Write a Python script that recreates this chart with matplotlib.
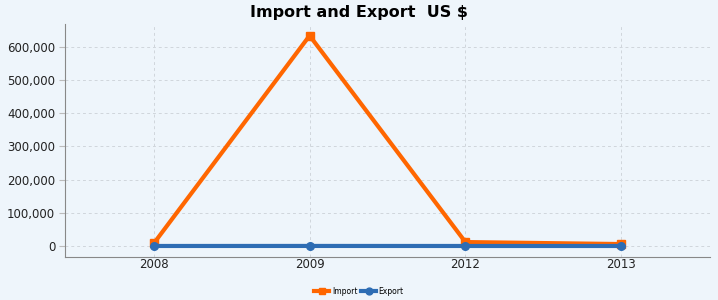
import matplotlib.pyplot as plt
from matplotlib.ticker import FuncFormatter

years = ['2008', '2009', '2012', '2013']
imports = [8000, 634000, 12000, 6000]
exports = [200, 300, 200, 200]

bg = '#eef5fb'
fig = plt.figure(figsize=(7.18, 3.0), dpi=100, facecolor=bg)
ax = fig.add_axes([65 / 718, 43 / 300, 645 / 718, 233 / 300], facecolor=bg)

x = range(len(years))
ax.plot(x, imports, color='#ff6600', lw=3, marker='s', ms=5.5, label='Import', zorder=3)
ax.plot(x, exports, color='#2e6db4', lw=3, marker='o', ms=5.5, label='Export', zorder=4)

ax.set_xlim(-0.57, 3.57)
ax.set_ylim(-33000, 669000)
ax.set_xticks(list(x))
ax.set_xticklabels(years)
ax.set_yticks(range(0, 600001, 100000))
ax.yaxis.set_major_formatter(FuncFormatter(lambda v, p: f'{int(v):,}'))
ax.tick_params(axis='both', labelsize=8.5, colors='#222222', length=3)
ax.tick_params(axis='x', pad=1, length=0)
ax.tick_params(axis='y', length=4, pad=3, color='#bbbbbb')
ax.grid(True, color='#d0d6dc', ls=(0, (3, 3)), lw=0.7)
for s in ['top', 'right']:
    ax.spines[s].set_visible(False)
for s in ['left', 'bottom']:
    ax.spines[s].set_color('#888888')

fig.suptitle('Import and Export  US $', fontsize=11.5, fontweight='bold', y=0.983)
fig.legend(loc='lower center', ncol=2, fontsize=5.5, frameon=False,
           bbox_to_anchor=(0.5, -0.008), handlelength=2, columnspacing=0.5,
           handletextpad=0.3, markerscale=0.9)
fig.savefig('out.png', dpi=100, facecolor=bg)
